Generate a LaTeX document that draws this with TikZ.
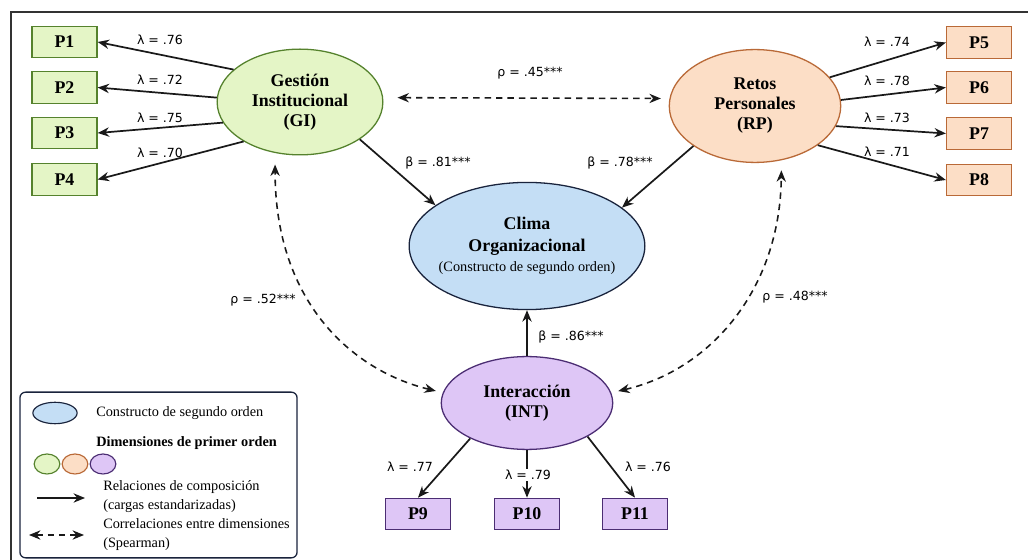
\documentclass[tikz,border=0pt]{standalone}
\usepackage{fontspec}
\setmainfont{Liberation Serif}
\newfontfamily\labfont{DejaVu Sans}
\usetikzlibrary{shapes.geometric,arrows.meta}
\definecolor{gfill}{RGB}{228,245,198}
\definecolor{gline}{RGB}{85,130,45}
\definecolor{ofill}{RGB}{252,222,198}
\definecolor{oline}{RGB}{185,105,55}
\definecolor{pfill}{RGB}{222,198,246}
\definecolor{pline}{RGB}{75,45,115}
\definecolor{bfill}{RGB}{196,222,245}
\definecolor{bline}{RGB}{25,35,60}
\begin{document}
\begin{tikzpicture}[x=0.7pt,y=-0.7pt,
  box/.style={draw, line width=0.9pt, minimum width=45.5pt, minimum height=22pt, inner sep=0pt, font=\fontsize{12.5}{14}\selectfont\bfseries},
  gbox/.style={box, fill=gfill, draw=gline},
  obox/.style={box, fill=ofill, draw=oline},
  pbox/.style={box, fill=pfill, draw=pline},
  lat/.style={ellipse, draw, line width=0.9pt, inner sep=0pt},
  ltext/.style={align=center, font=\fontsize{12.5}{14}\selectfont\bfseries},
  arr/.style={-{Stealth[length=8pt,width=6.5pt]}, line width=1.2pt, draw=black!90},
  darr/.style={{Stealth[length=8pt,width=6.5pt]}-{Stealth[length=8pt,width=6.5pt]}, dash pattern=on 4.5pt off 3.5pt, line width=1.1pt, draw=black!90},
  lab/.style={font=\labfont\fontsize{8.8}{10}\selectfont, inner sep=1pt},
  legtxt/.style={font=\fontsize{10}{13.3}\selectfont, inner sep=0pt, anchor=west, align=left},
]
\useasboundingbox (0,0) rectangle (1028,560);
\fill[white] (0,0) rectangle (1028,560);
\draw[line width=1pt, black!80] (11,12) rectangle (1045,575);

% indicator boxes
\node[gbox] (P1) at (64.5,42) {P1};
\node[gbox] (P2) at (64.5,87.5) {P2};
\node[gbox] (P3) at (64.5,133) {P3};
\node[gbox] (P4) at (64.5,179.5) {P4};
\node[obox] (P5) at (979,42.5) {P5};
\node[obox] (P6) at (979,87.5) {P6};
\node[obox] (P7) at (979,133.5) {P7};
\node[obox] (P8) at (979,180) {P8};
\node[pbox] (P9) at (418,514) {P9};
\node[pbox] (P10) at (527,514) {P10};
\node[pbox] (P11) at (635,514) {P11};

% latent ellipses
\node[lat, fill=gfill, draw=gline, minimum width=116pt, minimum height=74pt,
  label={[ltext]center:Gestión\\Institucional\\(GI)}] (GI) at (300,102) {};
\node[lat, fill=ofill, draw=oline, minimum width=120pt, minimum height=79pt,
  label={[ltext]center:Retos\\Personales\\(RP)}] (RP) at (755,106) {};
\node[lat, fill=bfill, draw=bline, minimum width=165pt, minimum height=89pt,
  label={[align=center, font=\fontsize{12.5}{15.4}\selectfont\bfseries]center:Clima\\Organizacional\\[-1pt]{\normalfont\fontsize{10}{12}\selectfont(Constructo de segundo orden)}}] (CO) at (527,246) {};
\node[lat, fill=pfill, draw=pline, minimum width=120pt, minimum height=65pt,
  label={[ltext]center:Interacción\\(INT)}] (INT) at (527,403) {};

% loadings
\draw[arr] (GI.154) -- (P1.east);
\draw[arr] (GI.177) -- (P2.east);
\draw[arr] (GI.195) -- (P3.east);
\draw[arr] (GI.215) -- (P4.east);
\draw[arr] (RP.21) -- (P5.west);
\draw[arr] (RP.4) -- (P6.west);
\draw[arr] (RP.-14) -- (P7.west);
\draw[arr] (RP.-32) -- (P8.west);
\draw[arr] (INT.212) -- (P9.north);
\draw[arr] (INT) -- (P10);
\draw[arr] (INT.-29) -- (P11.north);

% structural paths
\draw[arr] (GI.-32) -- (CO.156);
\draw[arr] (RP.213) -- (CO.22);
\draw[arr] (INT) -- (CO);

% correlations
\draw[darr, shorten <=10pt, shorten >=6pt] (GI.3) -- (RP.175);
\draw[darr, shorten <=5pt, shorten >=7pt] (INT.7) .. controls (710,370) and (780,290) .. (RP.-64);
\draw[darr, shorten <=5pt, shorten >=8pt] (INT.173) .. controls (350,370) and (275,300) .. (GI.244);

% labels
\node[lab] (l1) at (160,40) {λ = .76};
\node[lab] (l2) at (160,80) {λ = .72};
\node[lab] (l3) at (160,118) {λ = .75};
\node[lab] (l4) at (160,153) {λ = .70};
\node[lab] (l5) at (887,42) {λ = .74};
\node[lab] (l6) at (887,81) {λ = .78};
\node[lab] (l7) at (887,118) {λ = .73};
\node[lab] (l8) at (887,152) {λ = .71};
\node[lab] (l9) at (410,467) {λ = .77};
\node[lab, fill=white] (l10) at (528,475) {λ = .79};
\node[lab] (l11) at (648,467) {λ = .76};
\node[lab] (r1) at (530,73) {ρ = .45***};
\node[lab] (r2) at (263,300) {ρ = .52***};
\node[lab] (r3) at (795,297) {ρ = .48***};
\node[lab] (b1) at (438,163) {β = .81***};
\node[lab] (b2) at (620,163) {β = .78***};
\node[lab] (b3) at (571,337) {β = .86***};

% legend
\node[draw=bline, rounded corners=4pt, line width=0.9pt, minimum width=194pt, minimum height=116pt, inner sep=0pt] (leg) at (158.5,475) {};
\node[ellipse, draw=bline, fill=bfill, line width=0.8pt, minimum width=31pt, minimum height=15pt, inner sep=0pt] (lgb) at (55,413) {};
\node[legtxt] (lt1) at (96,413) {Constructo de segundo orden};
\node[legtxt, font=\fontsize{10}{13.3}\selectfont\bfseries] (lt2) at (96,443) {Dimensiones de primer orden};
\node[ellipse, draw=gline, fill=gfill, line width=0.8pt, minimum width=18pt, minimum height=14pt, inner sep=0pt] (lgg) at (47,464) {};
\node[ellipse, draw=oline, fill=ofill, line width=0.8pt, minimum width=18pt, minimum height=14pt, inner sep=0pt] (lgo) at (75,464) {};
\node[ellipse, draw=pline, fill=pfill, line width=0.8pt, minimum width=18pt, minimum height=14pt, inner sep=0pt] (lgp) at (103,464) {};
\coordinate (la1) at (37,498);
\coordinate (la2) at (85,498);
\draw[arr] (la1) -- (la2);
\node[legtxt] (lt3) at (103,497) {Relaciones de composición\\(cargas estandarizadas)};
\coordinate (ld1) at (29,535);
\coordinate (ld2) at (84,535);
\draw[darr] (ld1) -- (ld2);
\node[legtxt] (lt4) at (103,535) {Correlaciones entre dimensiones\\(Spearman)};
\end{tikzpicture}
\end{document}
